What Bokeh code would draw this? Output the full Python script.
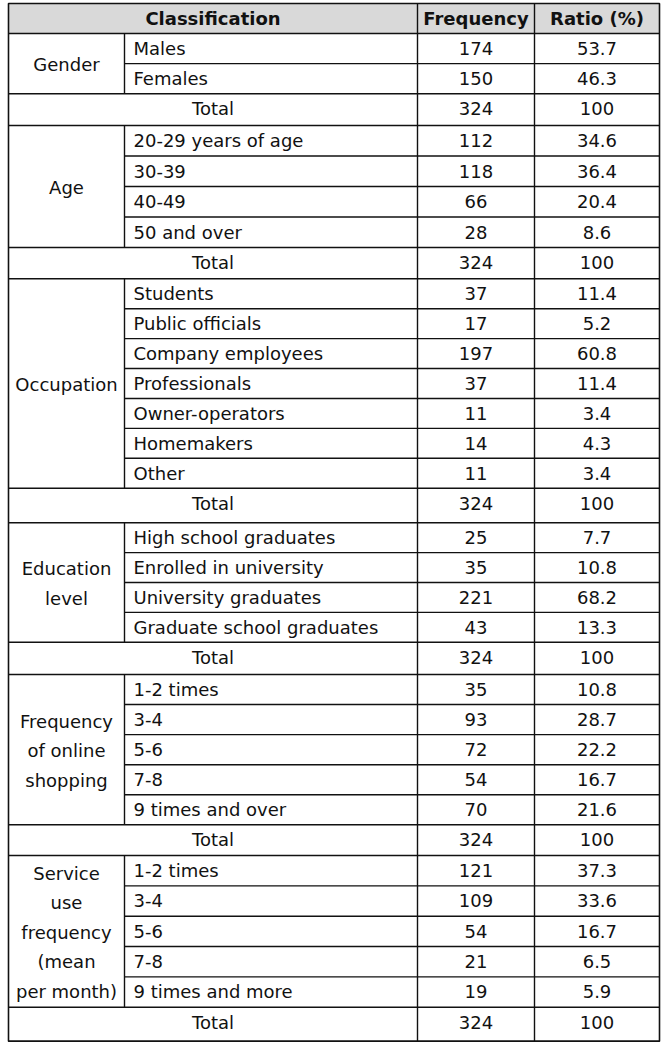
from bokeh.plotting import figure
from bokeh.models import ColumnDataSource, Range1d
from bokeh.core.properties import value
from bokeh.embed import file_html
from bokeh.resources import INLINE

# ---------------- data ----------------
header = ["Classification", "Frequency", "Ratio (%)"]
total_label = "Total"

gender_label = ["Gender"]
gender_items = ["Males", "Females"]
gender_freq = [174, 150]
gender_ratio = [53.7, 46.3]

age_label = ["Age"]
age_items = ["20-29 years of age", "30-39", "40-49", "50 and over"]
age_freq = [112, 118, 66, 28]
age_ratio = [34.6, 36.4, 20.4, 8.6]

occupation_label = ["Occupation"]
occupation_items = ["Students", "Public officials", "Company employees", "Professionals",
                    "Owner-operators", "Homemakers", "Other"]
occupation_freq = [37, 17, 197, 37, 11, 14, 11]
occupation_ratio = [11.4, 5.2, 60.8, 11.4, 3.4, 4.3, 3.4]

education_label = ["Education", "level"]
education_items = ["High school graduates", "Enrolled in university",
                   "University graduates", "Graduate school graduates"]
education_freq = [25, 35, 221, 43]
education_ratio = [7.7, 10.8, 68.2, 13.3]

shopping_label = ["Frequency", "of online", "shopping"]
shopping_items = ["1-2 times", "3-4", "5-6", "7-8", "9 times and over"]
shopping_freq = [35, 93, 72, 54, 70]
shopping_ratio = [10.8, 28.7, 22.2, 16.7, 21.6]

service_label = ["Service", "use", "frequency", "(mean", "per month)"]
service_items = ["1-2 times", "3-4", "5-6", "7-8", "9 times and more"]
service_freq = [121, 109, 54, 21, 19]
service_ratio = [37.3, 33.6, 16.7, 6.5, 5.9]

total_freq = [324, 324, 324, 324, 324, 324]
total_ratio = [100, 100, 100, 100, 100, 100]

groups = [
    (gender_label, gender_items, gender_freq, gender_ratio),
    (age_label, age_items, age_freq, age_ratio),
    (occupation_label, occupation_items, occupation_freq, occupation_ratio),
    (education_label, education_items, education_freq, education_ratio),
    (shopping_label, shopping_items, shopping_freq, shopping_ratio),
    (service_label, service_items, service_freq, service_ratio),
]

# ---------------- layout (page pixels) ----------------
X0, X1, X2, X3, X4 = 8, 124, 417, 534, 659
TOP = 3
HEADER_BOTTOM = 33
# for each group: bottom of its item rows, bottom of its total row
GROUP_EDGES = [(93.3, 125), (247, 278.3), (487.7, 522.3),
               (641.7, 674), (824.3, 855), (1006.7, 1040.7)]
TEXT_DY = 15          # text centre below a row's top line
LINE_GAP = 29.5
FONT = "DejaVu Sans"
FS = "18px"
INK = "#111111"
W, H = 668, 1048


def fmt(v):
    return f"{v:g}"


left_txt = dict(x=[], y=[], t=[])
center_txt = dict(x=[], y=[], t=[])
seg = dict(x0=[], y0=[], x1=[], y1=[])


def hline(xa, xb, y):
    seg["x0"].append(xa); seg["x1"].append(xb); seg["y0"].append(y); seg["y1"].append(y)


def vline(x, ya, yb):
    seg["x0"].append(x); seg["x1"].append(x); seg["y0"].append(ya); seg["y1"].append(yb)


def ctext(x, y, t):
    center_txt["x"].append(x); center_txt["y"].append(y); center_txt["t"].append(t)


y = HEADER_BOTTOM
hline(X0, X4, y)
for gi, (label, items, fr, ra) in enumerate(groups):
    gtop = y
    gbot, tbot = GROUP_EDGES[gi]
    sub_h = (gbot - gtop) / len(items)
    for k, (it, f, r) in enumerate(zip(items, fr, ra)):
        ry = gtop + k * sub_h
        if k > 0:
            hline(X1, X4, ry)
        cy = ry + TEXT_DY
        left_txt["x"].append(X1 + 9); left_txt["y"].append(cy); left_txt["t"].append(it)
        ctext((X2 + X3) / 2, cy, str(f))
        ctext((X3 + X4) / 2, cy, fmt(r))
    vline(X1, gtop, gbot)
    n = len(label)
    gc = (gtop + gbot) / 2 + 1
    for k, ln in enumerate(label):
        ctext((X0 + X1) / 2, gc + (k - (n - 1) / 2) * LINE_GAP, ln)
    hline(X0, X4, gbot)
    cy = gbot + TEXT_DY
    ctext((X0 + X2) / 2, cy, total_label)
    ctext((X2 + X3) / 2, cy, str(total_freq[gi]))
    ctext((X3 + X4) / 2, cy, fmt(total_ratio[gi]))
    hline(X0, X4, tbot)
    y = tbot
BOTTOM = y

vline(X2, TOP, BOTTOM)
vline(X3, TOP, BOTTOM)

p = figure(width=W, height=H, output_backend="svg", toolbar_location=None,
           x_range=Range1d(0, W), y_range=Range1d(H, 0),
           min_border=0, outline_line_color=None)
p.axis.visible = False
p.grid.visible = False
p.background_fill_color = "white"

# header background
p.quad(left=[X0], right=[X4], top=[TOP], bottom=[HEADER_BOTTOM],
       fill_color="#d9d9d9", line_color=None)

p.segment(x0="x0", y0="y0", x1="x1", y1="y1", source=ColumnDataSource(seg),
          line_color="#111111", line_width=1.4)
# outer border
p.quad(left=[X0], right=[X4], top=[TOP], bottom=[BOTTOM],
       fill_color=None, line_color="#111111", line_width=1.6)

hy = TOP + TEXT_DY
p.text(x=[(X0 + X2) / 2, (X2 + X3) / 2, (X3 + X4) / 2], y=[hy] * 3, text=header,
       text_font=value(FONT), text_font_size=FS, text_font_style="bold",
       text_align="center", text_baseline="middle", text_color=INK)

p.text(x="x", y="y", text="t", source=ColumnDataSource(left_txt),
       text_font=value(FONT), text_font_size=FS,
       text_align="left", text_baseline="middle", text_color=INK)
p.text(x="x", y="y", text="t", source=ColumnDataSource(center_txt),
       text_font=value(FONT), text_font_size=FS,
       text_align="center", text_baseline="middle", text_color=INK)

open("out.html", "w").write(file_html(p, INLINE))
